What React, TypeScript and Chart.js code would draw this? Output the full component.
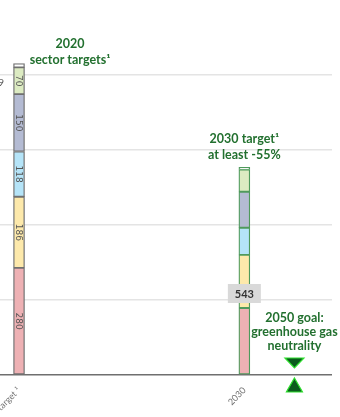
import React, { useEffect, useRef } from "react";
import { Chart, registerables } from "chart.js";

Chart.register(...registerables);

const categories = ["2020 target ¹", "", "", "", "", "", "", "", "", "2030", "", "", ""];
const sectorNames = ["Energy", "Industry", "Buildings", "Transport", "Agriculture", "Other"];
const target2020 = [280, 186, 118, 150, 70, 10];
const target2030 = [175, 139, 71, 94, 58, 6];
const segmentLabels2020 = ["280", "186", "118", "150", "70", ""];
const total2030Label = "543";
const fillColors = ["#eeb1b4", "#fde9ab", "#b5e4f8", "#b4bbd3", "#dcebc2", "#ffffff"];

const GREEN = "#22702f";

export default function App() {
  const ref = useRef<HTMLCanvasElement | null>(null);
  useEffect(() => {
    if (!ref.current) return;
    const datasets = sectorNames.map((name, s) => {
      const data = categories.map((_, i) => (i === 0 ? target2020[s] : i === 9 ? target2030[s] : null));
      return {
        label: name,
        data,
        backgroundColor: fillColors[s],
        borderColor: (ctx: any) => (ctx.dataIndex === 9 ? "#4f9a5c" : "#707070"),
        borderWidth: 1.3,
        borderSkipped: false,
        barThickness: 11,
      };
    });

    const annot = {
      id: "annot",
      afterDatasetsDraw(chart: any) {
        const c = chart.ctx;
        const x = chart.scales.x;
        c.save();
        c.fillStyle = "#555";
        c.font = "9px 'DejaVu Sans', sans-serif";
        c.textAlign = "center";
        c.textBaseline = "middle";
        sectorNames.forEach((_, s) => {
          const el = chart.getDatasetMeta(s).data[0];
          if (!el || !segmentLabels2020[s]) return;
          const cy = (el.y + el.base) / 2;
          c.save();
          c.translate(el.x, cy);
          c.rotate(Math.PI / 2);
          c.fillText(segmentLabels2020[s], 0, 0.5);
          c.restore();
        });
        c.restore();

        const top = chart.getDatasetMeta(0).data[9];
        const x30 = top.x;
        c.save();
        c.fillStyle = "#d9d9d9";
        c.fillRect(x30 - 16.5, 284, 33, 19);
        c.fillStyle = "#333";
        c.font = "bold 11px Lato, sans-serif";
        c.textAlign = "center";
        c.textBaseline = "middle";
        c.fillText(total2030Label, x30, 294);
        c.restore();

        c.save();
        c.fillStyle = GREEN;
        c.font = "bold 12.5px Lato, sans-serif";
        c.textAlign = "center";
        c.textBaseline = "middle";
        c.fillText("2020", 70, 44);
        c.fillText("sector targets\u00b9", 70, 60);
        c.fillText("2030 target\u00b9", x30, 139);
        c.fillText("at least -55%", x30, 155);
        const x50 = x.getPixelForValue(11);
        c.fillText("2050 goal:", x50, 318);
        c.fillText("greenhouse gas", x50, 332);
        c.fillText("neutrality", x50, 346);
        c.fillStyle = "#0b5a1c";
        c.strokeStyle = "#2ee02e";
        c.lineWidth = 1.2;
        c.beginPath();
        c.moveTo(x50 - 9.5, 358);
        c.lineTo(x50 + 9.5, 358);
        c.lineTo(x50, 368);
        c.closePath();
        c.fill();
        c.stroke();
        c.beginPath();
        c.moveTo(x50, 378);
        c.lineTo(x50 + 8, 392);
        c.lineTo(x50 - 8, 392);
        c.closePath();
        c.fill();
        c.stroke();
        c.fillStyle = "#555";
        c.font = "10px Lato, sans-serif";
        c.textAlign = "right";
        c.fillText("9", 4, 83);
        c.restore();
      },
    };

    const chart = new Chart(ref.current, {
      type: "bar",
      data: { labels: categories, datasets: datasets as any },
      plugins: [annot],
      options: {
        animation: false,
        responsive: true,
        maintainAspectRatio: false,
        layout: { padding: { left: 0, right: 8, top: 0, bottom: 0 } },
        plugins: { legend: { display: false }, tooltip: { enabled: false } },
        scales: {
          x: {
            stacked: true,
            grid: { display: false },
            border: { display: false },
            ticks: {
              autoSkip: false,
              maxRotation: 45,
              minRotation: 45,
              color: "#707070",
              font: { size: 9, family: "Lato, sans-serif" },
              padding: 2,
            },
            afterFit: (scale: any) => {
              scale.height = 42;
              scale.paddingLeft = 0;
              scale.paddingRight = 0;
            },
          } as any,
          y: {
            stacked: true,
            min: 0,
            max: 980,
            border: { display: false },
            ticks: { display: false, stepSize: 200 },
            grid: {
              tickLength: 6.5,
              lineWidth: 1.5,
              color: (ctx: any) => {
                const v = ctx.tick ? ctx.tick.value : 0;
                if (v === 0) return "#6f6f6f";
                if (v > 900) return "rgba(0,0,0,0)";
                return "#e4e4e4";
              },
            },
            afterFit: (scale: any) => {
              scale.width = 6.5;
              scale.paddingTop = 0;
              scale.paddingBottom = 0;
            },
          } as any,
        },
      },
    });
    return () => chart.destroy();
  }, []);

  return (
    <div style={{ position: "fixed", left: 0, top: 0, width: 340, height: 417, background: "#fff" }}>
      <canvas ref={ref} />
    </div>
  );
}
